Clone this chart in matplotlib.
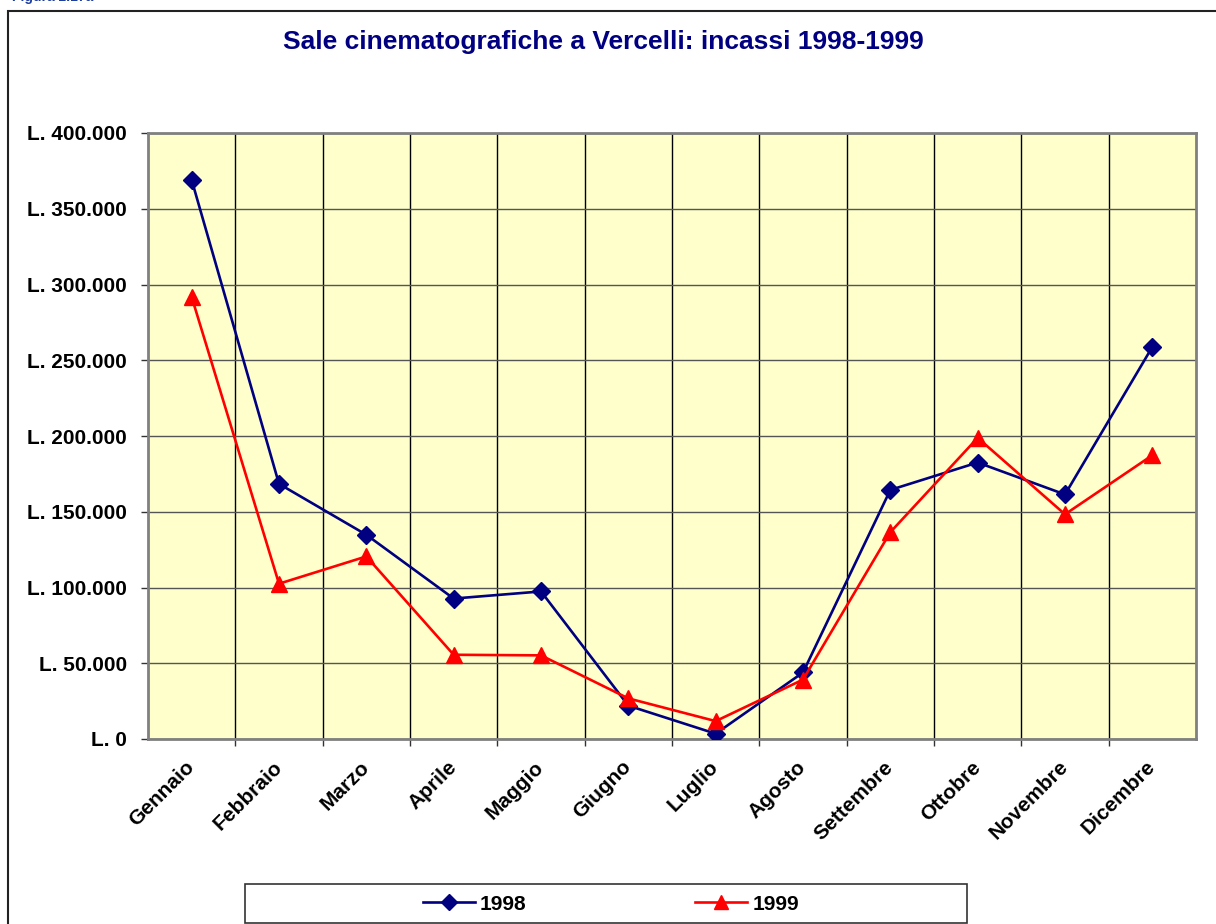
import numpy as np
import matplotlib.pyplot as plt
from matplotlib.patches import Rectangle
from matplotlib.ticker import FuncFormatter

plt.rcParams['font.family'] = ['Liberation Sans', 'DejaVu Sans']
plt.rcParams['font.weight'] = 'bold'

mesi = ['Gennaio', 'Febbraio', 'Marzo', 'Aprile', 'Maggio', 'Giugno',
        'Luglio', 'Agosto', 'Settembre', 'Ottobre', 'Novembre', 'Dicembre']
incassi_1998 = [369000, 168400, 134800, 92700, 97400, 22000,
                3500, 43900, 164400, 182500, 161400, 258800]
incassi_1999 = [291800, 102500, 120500, 55600, 55200, 26800,
                11800, 39200, 136500, 198800, 148300, 187300]
y_ticks = np.arange(0, 400001, 50000)


def lire(v, pos=None):
    return 'L. ' + f'{int(v):,}'.replace(',', '.')


fig = plt.figure(figsize=(12.16, 9.24), dpi=100)
ax = fig.add_axes([148 / 1216, 1 - 739 / 924, 1048 / 1216, 606 / 924])

x = np.arange(len(mesi))
ax.plot(x, incassi_1998, color='#000080', linewidth=1.9, marker='D',
        markersize=9.5, label='1998', zorder=3)
ax.plot(x, incassi_1999, color='#FF0000', linewidth=1.9, marker='^',
        markersize=11.5, label='1999', zorder=3)

ax.set_facecolor('#FFFFCC')
ax.set_xlim(-0.5, len(mesi) - 0.5)
ax.set_ylim(0, 400000)

ax.set_yticks(y_ticks)
ax.yaxis.set_major_formatter(FuncFormatter(lire))
ax.tick_params(axis='y', labelsize=15, length=5, width=1, pad=10, color='#333333')
ax.yaxis.grid(True, color='#555555', linewidth=1)

ax.set_xticks(x)
ax.set_xticklabels(mesi, rotation=45, ha='right', va='center',
                   rotation_mode='anchor', fontsize=15)
ax.set_xticks(np.arange(0.5, len(mesi) - 1, 1), minor=True)
ax.tick_params(axis='x', which='major', length=0, pad=18)
ax.tick_params(axis='x', which='minor', length=5, width=1, color='#333333')
ax.xaxis.grid(True, which='minor', color='black', linewidth=1)
ax.set_axisbelow(True)

for s in ax.spines.values():
    s.set_color('#808080')
    s.set_linewidth(2)

fig.text(0.496, 1 - 42 / 924, 'Sale cinematografiche a Vercelli: incassi 1998-1999',
         ha='center', va='center', fontsize=19, color='#000080')
fig.text(12 / 1216, 1 - 0.5 / 924, 'Figura 2.17a', ha='left', va='baseline',
         fontsize=10, color='#1F3F9F')

# cornice esterna del grafico
fig.patches.append(Rectangle((7.5 / 1216, -0.1), 1.2, 1.1 - 10.5 / 924,
                             transform=fig.transFigure, fill=False,
                             edgecolor='#222222', linewidth=1.5))
# riquadro della legenda
fig.patches.append(Rectangle((245 / 1216, 1 - 923 / 924), 722 / 1216, 39 / 924,
                             transform=fig.transFigure, fill=False,
                             edgecolor='#333333', linewidth=1.2))

fig.legend(loc='center', bbox_to_anchor=(611 / 1216, 1 - 904 / 924), ncol=2,
           frameon=False, fontsize=15, numpoints=1, handlelength=2.5,
           handletextpad=0.25, columnspacing=8.1, markerscale=0.85)

fig.savefig('out.png', dpi=100)
